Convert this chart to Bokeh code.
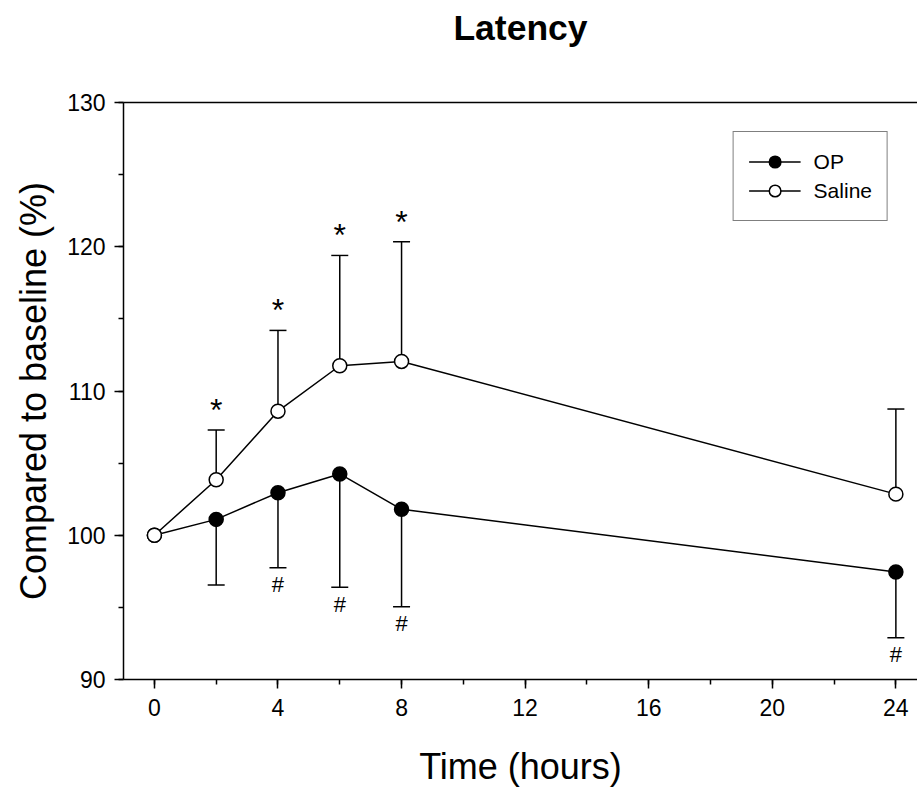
from bokeh.plotting import figure
from bokeh.models import (Whisker, TeeHead, ColumnDataSource, LinearAxis, FixedTicker,
                          Legend, LegendItem, Range1d, SingleIntervalTicker)
from bokeh.core.properties import value
from bokeh.embed import file_html
from bokeh.resources import INLINE

# ---- data ----
hours = [0, 2, 4, 6, 8, 24]
op_mean = [100.0, 101.1, 102.95, 104.25, 101.8, 97.45]
op_lower = [100.0, 96.55, 97.75, 96.4, 95.05, 92.9]
saline_mean = [100.0, 103.85, 108.6, 111.75, 112.05, 102.85]
saline_upper = [100.0, 107.3, 114.2, 119.4, 120.35, 108.75]
star_hours = [2, 4, 6, 8]      # '*' marks above Saline error bars
hash_hours = [4, 6, 8, 24]     # '#' marks below OP error bars
x_ticks = [0, 4, 8, 12, 16, 20, 24]
y_ticks = [90, 100, 110, 120, 130]

FONT = "Liberation Sans"

p = figure(width=917, height=789, output_backend="svg", toolbar_location=None,
           title_location=None,
           x_range=Range1d(-1, 24.7), y_range=Range1d(90, 130),
           min_border_left=123, min_border_right=0, min_border_top=102,
           min_border_bottom=108)
p.grid.visible = False
p.outline_line_color = None
p.background_fill_color = "white"
p.border_fill_color = "white"

def style_axis(ax, size):
    ax.axis_line_width = 1.5
    ax.axis_line_color = "black"
    ax.major_tick_line_width = 1.5
    ax.minor_tick_line_width = 1.5
    ax.major_tick_in = 0
    ax.major_tick_out = 9
    ax.minor_tick_in = 0
    ax.minor_tick_out = 5
    ax.major_label_text_font = FONT
    ax.major_label_text_font_size = size
    ax.major_label_text_color = "black"
    ax.axis_label_text_font = FONT
    ax.axis_label_text_font_size = "36px"
    ax.axis_label_text_font_style = "normal"
    ax.axis_label_text_color = "black"

xa = p.xaxis[0]
ya = p.yaxis[0]
xa.ticker = SingleIntervalTicker(interval=4, num_minor_ticks=2)
ya.ticker = SingleIntervalTicker(interval=10, num_minor_ticks=2)
style_axis(xa, "23px")
style_axis(ya, "23px")
xa.axis_label = "Time (hours)"
ya.axis_label = "Compared to baseline (%)"
xa.major_label_standoff = 10
xa.axis_label_standoff = 27
ya.major_label_standoff = 9
ya.axis_label_standoff = 10

# top frame line, carrying the chart title
top = LinearAxis(ticker=FixedTicker(ticks=[]), axis_line_width=1.5,
                 axis_line_color="black", major_label_text_font_size="0px",
                 axis_label="Latency", axis_label_text_font=FONT,
                 axis_label_text_font_size="35.5px", axis_label_text_font_style="bold",
                 axis_label_text_color="black", axis_label_standoff=55)
p.add_layout(top, "above")

# error bars (one-sided), skip the baseline point
op_src = ColumnDataSource(dict(x=hours[1:], base=op_mean[1:], lower=op_lower[1:]))
sal_src = ColumnDataSource(dict(x=hours[1:], base=saline_mean[1:], upper=saline_upper[1:]))

op_w = Whisker(source=op_src, base="x", upper="base", lower="lower", dimension="height",
               line_color="black", line_width=1.5, upper_head=None,
               lower_head=TeeHead(size=17, line_color="black", line_width=1.5))
sal_w = Whisker(source=sal_src, base="x", upper="upper", lower="base", dimension="height",
                line_color="black", line_width=1.5, lower_head=None,
                upper_head=TeeHead(size=17, line_color="black", line_width=1.5))
p.add_layout(op_w)
p.add_layout(sal_w)

op_line = p.line(hours, op_mean, line_color="black", line_width=1.5)
op_pts = p.scatter(hours, op_mean, marker="circle", size=14, fill_color="black",
                   line_color="black", line_width=1.5)
sal_line = p.line(hours, saline_mean, line_color="black", line_width=1.5)
sal_pts = p.scatter(hours, saline_mean, marker="circle", size=14, fill_color="white",
                    line_color="black", line_width=1.5)

# significance marks
star_y = [saline_upper[hours.index(h)] for h in star_hours]
hash_y = [op_lower[hours.index(h)] for h in hash_hours]
p.text(star_hours, star_y, text=["*"] * len(star_hours), text_font=value(FONT),
       text_font_size="32px", text_align="center", text_baseline="middle",
       y_offset=-20, text_color="black")
p.text(hash_hours, hash_y, text=["#"] * len(hash_hours), text_font=value(FONT),
       text_font_size="22px", text_align="center", text_baseline="middle",
       y_offset=17, text_color="black")

legend = Legend(items=[LegendItem(label="OP", renderers=[op_line, op_pts]),
                       LegendItem(label="Saline", renderers=[sal_line, sal_pts])],
                location="top_right", margin=29, padding=15, spacing=0,
                glyph_width=52, glyph_height=29, label_height=29, label_standoff=13,
                label_text_font=FONT, label_text_font_size="21px",
                label_text_color="black",
                border_line_color="black", border_line_width=1.2,
                background_fill_alpha=1.0)
p.add_layout(legend)

open("out.html", "w").write(file_html(p, INLINE))
